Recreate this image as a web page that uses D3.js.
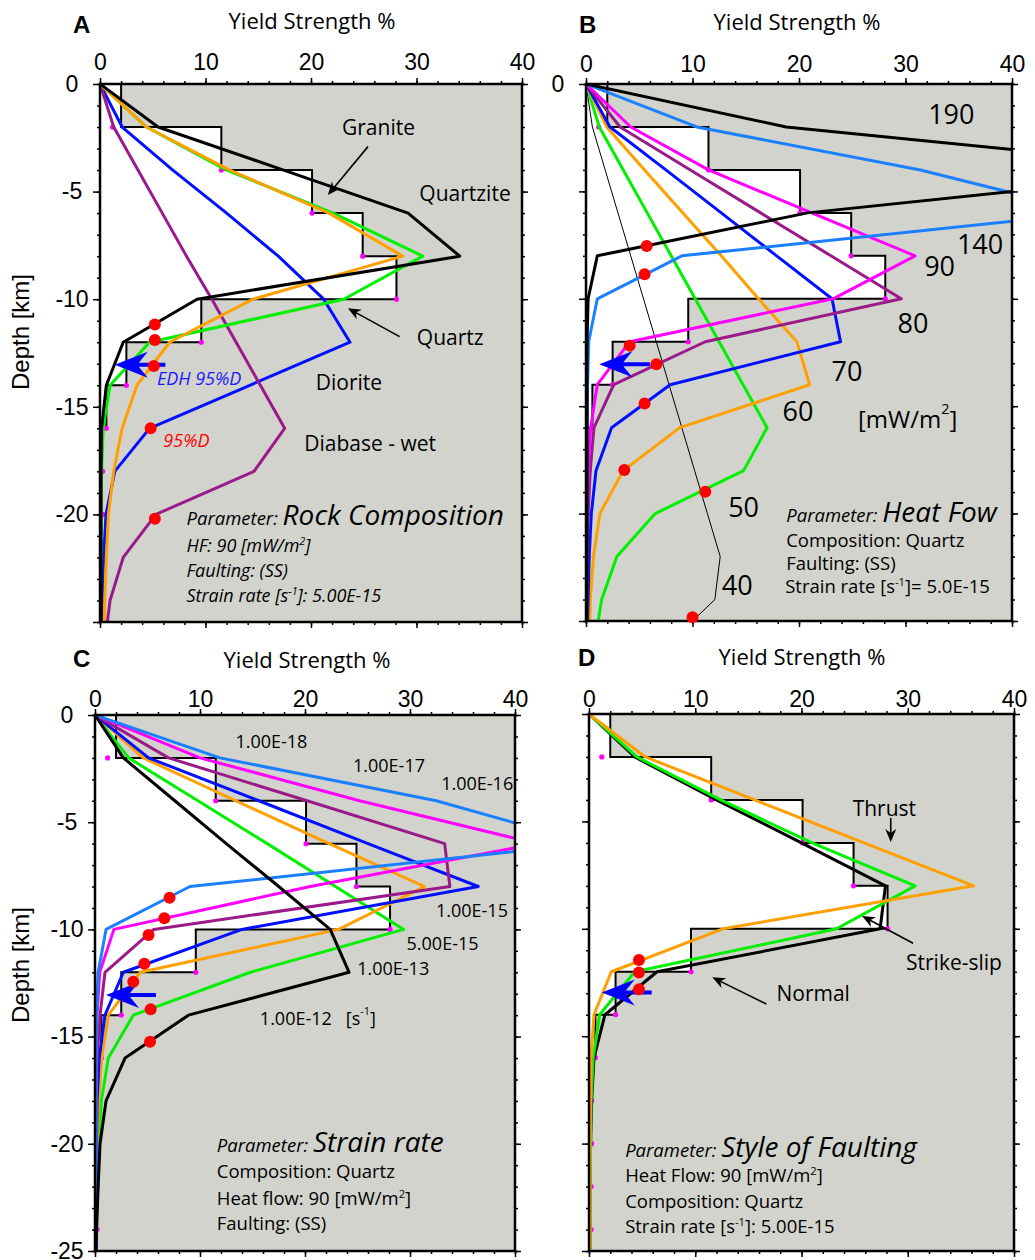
<!DOCTYPE html>
<html lang="en">
<head>
<meta charset="UTF-8">
<script src="https://d3js.org/d3.v7.min.js"></script>
<style>
  body { margin: 0; background: #fff; }
  svg text { font-family: "Open Sans", "Noto Sans", sans-serif; }
</style>
</head>
<body>
<svg id="chart" width="1035" height="1260"></svg>
<script>
// depth nodes shared by every curve (km)
const depths = [0, -2, -4, -6, -8, -10, -12, -14, -16, -18, -20, -22, -24, -25];

// reference yield-strength staircase (white area) and its sample dots
const stepTops = [0, -2, -4, -6, -8, -10, -12, -14];
const stepYield = [2.0, 11.5, 20.1, 24.9, 28.1, 9.6, 2.5, 0.6];
const refDepths = [-2, -4, -6, -8, -10, -12, -14, -16, -18, -20, -22, -24];
const refYield = [1.2, 11.5, 20.1, 24.9, 28.1, 9.6, 2.5, 0.6, 0.25, 0.25, 0.2, 0.2];

// A - rock composition
const aQuartzite = [0, 5.5, 17.4, 29.2, 34.1, 9.2, 2.2, 0.6, 0.15, 0.1, 0.1, 0.1, 0.1, 0.1];
const aQuartz = [0, 4.4, 12.0, 22.1, 30.6, 23.1, 4.7, 0.95, 0.3, 0.15, 0.1, 0.1, 0.05, 0.05];
const aGranite = [0, 4.4, 12.3, 21.7, 28.7, 14.5, 6.6, 3.5, 2.1, 1.3, 0.8, 0.6, 0.45, 0.4];
const aDiorite = [0, 2.1, 6.9, 12.0, 16.9, 21.2, 23.7, 14.2, 4.7, 1.4, 0.57, 0.35, 0.2, 0.15];
const aDiabase = [0, 1.3, 3.6, 5.9, 8.2, 10.6, 12.9, 15.2, 17.5, 14.6, 5.3, 2.2, 0.95, 0.7];
const aDotX = [5.2, 5.2, 5.1, 4.8, 5.2];
const aDotY = [-11.18, -11.9, -13.1, -16.0, -20.2];

// B - heat flow [mW/m2]
const b190 = [0, 18.8, 59.2, 20.8, 1.06, 0.2, 0.1, 0.1, 0.1, 0.1, 0.1, 0.1, 0.1, 0.1];
const b140 = [0, 10.4, 31.4, 47.5, 9.0, 1.06, 0.25, 0.15, 0.1, 0.1, 0.1, 0.1, 0.1, 0.1];
const b90 = [0, 4.2, 11.5, 21.2, 30.9, 23.2, 4.1, 1.06, 0.44, 0.2, 0.15, 0.1, 0.1, 0.1];
const b80 = [0, 3.2, 9.8, 16.4, 23.0, 29.6, 11.2, 2.6, 0.75, 0.4, 0.2, 0.15, 0.1, 0.1];
const b70 = [0, 2.25, 7.5, 12.7, 17.9, 23.1, 23.9, 7.9, 2.4, 0.94, 0.5, 0.3, 0.2, 0.15];
const b60 = [0, 1.94, 5.5, 9.1, 12.7, 16.2, 19.8, 21.0, 8.8, 3.5, 1.3, 0.7, 0.4, 0.35];
const b50 = [0, 1.25, 3.5, 5.75, 8.0, 10.25, 12.5, 14.75, 17.0, 14.8, 6.5, 2.9, 1.47, 1.15];
const b40 = [0, 0.6, 1.8, 3.0, 4.2, 5.4, 6.6, 7.8, 9.0, 10.2, 11.4, 12.6, 12.1, 10.0];
const bDotX = [5.7, 5.5, 4.1, 6.6, 5.5, 3.6, 11.2, 10.0];
const bDotY = [-7.54, -8.86, -12.18, -13.05, -14.87, -17.97, -18.98, -24.83];

// C - strain rate [1/s]
const c1e18 = [0, 11.9, 32.5, 47.0, 9.05, 1.05, 0.3, 0.15, 0.1, 0.1, 0.1, 0.1, 0.1, 0.1];
const c1e17 = [0, 10.0, 25.2, 42.1, 20.5, 1.8, 0.45, 0.2, 0.1, 0.1, 0.1, 0.1, 0.1, 0.1];
const c1e16 = [0, 7.0, 20.2, 33.3, 33.8, 5.6, 0.95, 0.48, 0.2, 0.1, 0.1, 0.1, 0.1, 0.1];
const c1e15 = [0, 5.1, 15.6, 26.0, 36.5, 14.0, 2.7, 0.95, 0.4, 0.2, 0.15, 0.1, 0.1, 0.1];
const c5e15 = [0, 4.6, 13.4, 22.3, 31.4, 23.2, 4.3, 1.27, 0.64, 0.35, 0.2, 0.15, 0.1, 0.1];
const c1e13 = [0, 3.2, 9.8, 16.4, 22.9, 29.4, 14.8, 3.65, 1.27, 0.6, 0.35, 0.2, 0.15, 0.1];
const c1e12 = [0, 2.7, 7.6, 12.5, 17.5, 22.4, 24.2, 8.9, 2.86, 1.05, 0.48, 0.3, 0.15, 0.1];
const cDotX = [7.1, 6.6, 5.1, 4.7, 3.65, 5.3, 5.24];
const cDotY = [-8.52, -9.48, -10.26, -11.6, -12.44, -13.73, -15.24];

// D - style of faulting
const dNormal = [0, 4.3, 12.0, 20.0, 27.9, 27.4, 6.4, 1.5, 0.47, 0.25, 0.15, 0.1, 0.1, 0.1];
const dStrikeSlip = [0, 4.5, 12.4, 21.0, 30.7, 23.3, 4.3, 1.0, 0.4, 0.2, 0.15, 0.1, 0.1, 0.1];
const dThrust = [0, 5.3, 15.6, 25.9, 36.2, 12.6, 2.1, 0.47, 0.2, 0.15, 0.1, 0.1, 0.1, 0.1];
const dDotX = [4.7, 4.7, 4.7];
const dDotY = [-11.45, -12.03, -12.82];

const xTicks = [0, 10, 20, 30, 40];
const yTicks = [0, -5, -10, -15, -20, -25];

const GRAY = "#d3d3ce", BLACK = "#000", GREEN = "#00f000", ORANGE = "#ffa000",
  BLUE = "#0010ff", PURPLE = "#9a1a8a", MAGENTA = "#ff00ff", SKY = "#1a80ff", RED = "#ff0000";

const svg = d3.select("#chart");

// text with optional size changes / superscripts
function txt(g, px, py, parts, o) {
  const t = g.append("text").attr("x", px).attr("y", py)
    .attr("font-size", o.size)
    .attr("text-anchor", o.anchor || "start")
    .attr("fill", o.color || "#000");
  if (o.italic) t.attr("font-style", "italic");
  if (o.mid) t.attr("dominant-baseline", "central");
  if (o.family) t.style("font-family", o.family);
  if (o.bold) t.attr("font-weight", "bold");
  [].concat(parts).forEach(s => {
    const seg = typeof s === "string" ? { t: s } : s;
    const sp = t.append("tspan").text(seg.t);
    if (seg.size) sp.attr("font-size", seg.size);
    if (seg.sup) sp.attr("baseline-shift", "super").attr("font-size", o.size * 0.6);
  });
  return t;
}

function arrow(g, x1, y1, x2, y2) {
  const a = Math.atan2(y2 - y1, x2 - x1), L = 13, W = 5.5;
  const c = Math.cos(a), s = Math.sin(a);
  const bx = x2 - L * c, by = y2 - L * s, nx = x2 - 0.7 * L * c, ny = y2 - 0.7 * L * s;
  g.append("line").attr("x1", x1).attr("y1", y1).attr("x2", nx).attr("y2", ny)
    .attr("stroke", "#000").attr("stroke-width", 1.6);
  g.append("path")
    .attr("d", `M${x2},${y2}L${bx - W * s},${by + W * c}L${nx},${ny}L${bx + W * s},${by - W * c}Z`)
    .attr("fill", "#000");
}

function edhArrow(g, tip, tail, yy) {
  g.append("path")
    .attr("d", `M${tip},${yy}L${tip + 33},${yy - 13}L${tip + 24},${yy - 2}L${tail},${yy - 2}` +
      `L${tail},${yy + 2}L${tip + 24},${yy + 2}L${tip + 33},${yy + 13}Z`)
    .attr("fill", "#0000ff");
}

function drawPanel(p) {
  const x = d3.scaleLinear().domain([0, 40]).range([p.left, p.right]);
  const y = d3.scaleLinear().domain([0, -25]).range([p.top, p.bottom]);
  const g = svg.append("g");
  const w = p.right - p.left, h = p.bottom - p.top;

  g.append("clipPath").attr("id", "clip" + p.id).append("rect")
    .attr("x", p.left).attr("y", p.top).attr("width", w).attr("height", h);
  g.append("rect").attr("x", p.left).attr("y", p.top).attr("width", w).attr("height", h).attr("fill", GRAY);

  // staircase
  const stair = [[0, 0]];
  stepTops.forEach((d, i) => { stair.push([stepYield[i], d], [stepYield[i], d - 2]); });
  stair.push([0, stepTops[stepTops.length - 1] - 2]);
  const pl = d3.line().x(d => x(d[0])).y(d => y(d[1]));
  g.append("path").attr("d", pl(stair) + "Z").attr("fill", "#fff");
  g.append("path").attr("d", pl(stair.slice(1))).attr("fill", "none")
    .attr("stroke", "#000").attr("stroke-width", 2);

  g.selectAll(null).data(refDepths).join("circle")
    .attr("cx", (d, i) => x(refYield[i])).attr("cy", d => y(d)).attr("r", 2.6).attr("fill", MAGENTA);

  const lg = g.append("g").attr("clip-path", `url(#clip${p.id})`);
  const curve = d3.line().x(v => x(v)).y((v, i) => y(depths[i]));
  p.series.forEach(s => {
    lg.append("path").datum(s.values).attr("d", curve)
      .attr("fill", "none").attr("stroke", s.color).attr("stroke-width", s.width || 3)
      .attr("stroke-linejoin", "round");
  });

  g.append("rect").attr("x", p.left).attr("y", p.top).attr("width", w).attr("height", h)
    .attr("fill", "none").attr("stroke", "#000").attr("stroke-width", 2.5);

  // axes
  const ax = (gen, tr, vals, size, fmt, pad) => {
    const a = g.append("g").attr("transform", tr)
      .call(gen.tickValues(vals).tickSize(size).tickPadding(pad || 3).tickFormat(fmt));
    a.select(".domain").remove();
    a.selectAll("line").attr("stroke-width", 1.5);
    a.selectAll("text").attr("font-size", 23).attr("fill", "#000")
      .style("font-family", "'Liberation Sans', Arial, sans-serif");
    return a;
  };
  const none = () => "";
  ax(d3.axisTop(x), `translate(0,${p.top})`, d3.range(0, 41, 2), 3, none);
  ax(d3.axisTop(x), `translate(0,${p.top})`, xTicks, 6, d => String(d), p.topPad);
  ax(d3.axisBottom(x), `translate(0,${p.bottom})`, d3.range(0, 41, 2), 3, none);
  ax(d3.axisBottom(x), `translate(0,${p.bottom})`, xTicks, 6, none);
  ax(d3.axisLeft(y), `translate(${p.left},0)`, d3.range(0, -26, -1), 3, none);
  ax(d3.axisLeft(y), `translate(${p.left},0)`, yTicks, 7, d => p.yLabels.includes(d) ? String(d) : "")
    .selectAll("text").attr("x", -28).attr("text-anchor", "middle");
  ax(d3.axisRight(y), `translate(${p.right},0)`, d3.range(0, -26, -1), 3, none);
  ax(d3.axisRight(y), `translate(${p.right},0)`, yTicks, 6, none);

  txt(g, p.titleX, p.titleY, "Yield Strength %", { size: 22, anchor: "middle" });
  txt(g, p.letterX, p.letterY, p.id, { size: 24, bold: true, family: "'Liberation Sans', Arial, sans-serif" });
  if (p.depthY) {
    txt(g, 0, 0, "Depth [km]", { size: 24, anchor: "middle", family: "'Liberation Sans', Arial, sans-serif" })
      .attr("transform", `translate(29,${p.depthY}) rotate(-90)`);
  }

  p.extras(g, x, y);

  g.selectAll(null).data(p.dotX).join("circle")
    .attr("cx", d => x(d)).attr("cy", (d, i) => y(p.dotY[i])).attr("r", 6).attr("fill", RED);
}

const lab = { size: 21, anchor: "middle", mid: true };

drawPanel({
  id: "A", left: 100, right: 522, top: 84, bottom: 622, topPad: 8,
  yLabels: [0, -5, -10, -15, -20], depthY: 332,
  titleX: 312, titleY: 29, letterX: 73, letterY: 33,
  series: [
    { values: aDiorite, color: BLUE },
    { values: aDiabase, color: PURPLE },
    { values: aQuartz, color: GREEN },
    { values: aGranite, color: ORANGE },
    { values: aQuartzite, color: BLACK }
  ],
  dotX: aDotX, dotY: aDotY,
  extras: (g, x, y) => {
    txt(g, x(26.4), y(-2.0), "Granite", lab);
    txt(g, x(34.6), y(-5.07), "Quartzite", lab);
    txt(g, x(33.2), y(-11.76), "Quartz", lab);
    txt(g, x(23.6), y(-13.85), "Diorite", lab);
    txt(g, x(25.6), y(-16.7), "Diabase - wet", lab);
    arrow(g, x(25.4), y(-2.91), x(21.6), y(-5.16));
    arrow(g, x(28.4), y(-11.74), x(23.5), y(-10.42));
    txt(g, x(5.4), y(-13.66), "EDH 95%D", { size: 18, italic: true, mid: true, color: "#1a1aff" });
    txt(g, x(6.0), y(-16.54), "95%D", { size: 18, italic: true, mid: true, color: RED });
    edhArrow(g, x(1.4), x(6.2), y(-13.05));
    const o = { size: 18, italic: true };
    txt(g, x(8.2), y(-20.49), [{ t: "Parameter: ", size: 18.5 }, { t: "Rock Composition", size: 28 }], o);
    txt(g, x(8.2), y(-21.73), ["HF: 90 [mW/m", { t: "2", sup: true }, "]"], o);
    txt(g, x(8.2), y(-22.89), "Faulting: (SS)", o);
    txt(g, x(8.2), y(-24.06), ["Strain rate [s", { t: "-1", sup: true }, "]: 5.00E-15"], o);
  }
});

drawPanel({
  id: "B", left: 586, right: 1012, top: 84, bottom: 621, topPad: 6,
  yLabels: [0],
  titleX: 797, titleY: 30, letterX: 579, letterY: 33,
  series: [
    { values: b40, color: BLACK, width: 1 },
    { values: b50, color: GREEN },
    { values: b60, color: ORANGE },
    { values: b70, color: BLUE },
    { values: b80, color: PURPLE },
    { values: b90, color: MAGENTA },
    { values: b140, color: SKY },
    { values: b190, color: BLACK }
  ],
  dotX: bDotX, dotY: bDotY,
  extras: (g, x, y) => {
    const big = { size: 27, anchor: "middle", mid: true };
    txt(g, x(34.3), y(-1.36), "190", big);
    txt(g, x(37.0), y(-7.42), "140", big);
    txt(g, x(33.2), y(-8.43), "90", big);
    txt(g, x(30.7), y(-11.07), "80", big);
    txt(g, x(24.5), y(-13.31), "70", big);
    txt(g, x(19.9), y(-15.18), "60", big);
    txt(g, x(14.8), y(-19.63), "50", big);
    txt(g, x(14.2), y(-23.29), "40", big);
    txt(g, x(30.2), y(-15.56), ["[mW/m", { t: "2", sup: true }, "]"], { size: 24, anchor: "middle", mid: true });
    edhArrow(g, x(1.25), x(6.0), y(-13.05));
    const o = { size: 18.5 };
    txt(g, x(18.8), y(-20.38), [{ t: "Parameter: ", size: 18.5 }, { t: "Heat Fow", size: 28 }], { size: 18.5, italic: true });
    txt(g, x(18.8), y(-21.54), "Composition: Quartz", o);
    txt(g, x(18.8), y(-22.63), "Faulting: (SS)", o);
    txt(g, x(18.7), y(-23.71), ["Strain rate [s", { t: "-1", sup: true }, "]= 5.0E-15"], o);
  }
});

drawPanel({
  id: "C", left: 95, right: 515, top: 715, bottom: 1251, topPad: 2,
  yLabels: [0, -5, -10, -15, -20, -25], depthY: 965,
  titleX: 307, titleY: 668, letterX: 73, letterY: 667,
  series: [
    { values: c1e13, color: GREEN },
    { values: c5e15, color: ORANGE },
    { values: c1e15, color: BLUE },
    { values: c1e16, color: PURPLE },
    { values: c1e17, color: MAGENTA },
    { values: c1e18, color: SKY },
    { values: c1e12, color: BLACK }
  ],
  dotX: cDotX, dotY: cDotY,
  extras: (g, x, y) => {
    const sm = { size: 18, anchor: "middle", mid: true };
    txt(g, x(16.8), y(-1.2), "1.00E-18", sm);
    txt(g, x(28.0), y(-2.33), "1.00E-17", sm);
    txt(g, x(36.4), y(-3.19), "1.00E-16", sm);
    txt(g, x(35.9), y(-9.1), "1.00E-15", sm);
    txt(g, x(33.1), y(-10.65), "5.00E-15", sm);
    txt(g, x(28.4), y(-11.81), "1.00E-13", sm);
    txt(g, x(15.7), y(-14.15), ["1.00E-12\u00a0\u00a0\u00a0[s", { t: "-1", sup: true }, "]"], { size: 18, mid: true });
    edhArrow(g, x(1.05), x(5.8), y(-13.06));
    const o = { size: 18.5 };
    txt(g, x(11.6), y(-20.37), [{ t: "Parameter: ", size: 18.5 }, { t: "Strain rate", size: 28 }], { size: 18.5, italic: true });
    txt(g, x(11.6), y(-21.61), "Composition: Quartz", o);
    txt(g, x(11.6), y(-22.86), ["Heat flow: 90 [mW/m", { t: "2", sup: true }, "]"], o);
    txt(g, x(11.6), y(-24.02), "Faulting: (SS)", o);
  }
});

drawPanel({
  id: "D", left: 589, right: 1014, top: 714, bottom: 1251, topPad: 1,
  yLabels: [],
  titleX: 802, titleY: 665, letterX: 578, letterY: 666,
  series: [
    { values: dNormal, color: BLACK },
    { values: dStrikeSlip, color: GREEN },
    { values: dThrust, color: ORANGE }
  ],
  dotX: dDotX, dotY: dDotY,
  extras: (g, x, y) => {
    txt(g, x(27.8), y(-4.39), "Thrust", lab);
    arrow(g, x(28.4), y(-4.84), x(28.4), y(-5.96));
    txt(g, x(34.35), y(-11.53), "Strike-slip", lab);
    arrow(g, x(30.5), y(-10.67), x(25.7), y(-9.4));
    txt(g, x(21.1), y(-13.0), "Normal", lab);
    arrow(g, x(16.7), y(-13.5), x(11.6), y(-12.26));
    edhArrow(g, x(1.2), x(5.9), y(-12.97));
    const o = { size: 18.5 };
    txt(g, x(3.4), y(-20.61), [{ t: "Parameter: ", size: 18.5 }, { t: "Style of Faulting", size: 28 }], { size: 18.5, italic: true });
    txt(g, x(3.4), y(-21.77), ["Heat Flow: 90 [mW/m", { t: "2", sup: true }, "]"], o);
    txt(g, x(3.4), y(-23.01), "Composition: Quartz", o);
    txt(g, x(3.4), y(-24.18), ["Strain rate [s", { t: "-1", sup: true }, "]: 5.00E-15"], o);
  }
});
</script>
</body>
</html>
